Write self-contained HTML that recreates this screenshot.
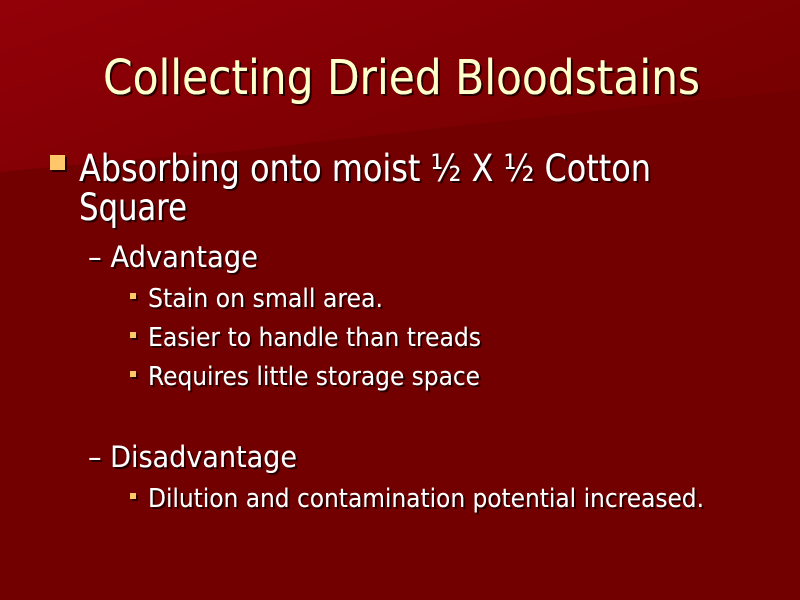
<!DOCTYPE html>
<html><head><meta charset="utf-8">
<style>
html,body{margin:0;padding:0;width:800px;height:600px;overflow:hidden;background:#730000;}
svg{display:block}
text{font-family:"DejaVu Sans","Liberation Sans",sans-serif;}
</style></head>
<body>
<svg width="800" height="600" viewBox="0 0 800 600">
  <defs>
    <linearGradient id="bgtop" x1="0" y1="0" x2="1" y2="0.6">
      <stop offset="0" stop-color="#930008"/>
      <stop offset="0.5" stop-color="#830004"/>
      <stop offset="1" stop-color="#760000"/>
    </linearGradient>
    <filter id="sh" x="-5%" y="-20%" width="110%" height="140%">
      <feDropShadow dx="2" dy="2" stdDeviation="0.3" flood-color="#1a0000" flood-opacity="0.9"/>
    </filter>
  </defs>
  <rect x="0" y="0" width="800" height="600" fill="#730000"/>
  <path d="M0 0 H800 V90 Q500 120 250 150 Q120 160 0 172 Z" fill="url(#bgtop)"/>

  <text x="103" y="94" font-size="48" fill="#FFFFCC" textLength="597" lengthAdjust="spacingAndGlyphs" filter="url(#sh)">Collecting Dried Bloodstains</text>

  <g fill="#FFFFFF" filter="url(#sh)">
    <rect x="50" y="155" width="15" height="15" fill="#FFC66A"/>
    <text x="79" y="181" font-size="37" textLength="572" lengthAdjust="spacingAndGlyphs">Absorbing onto moist ½ X ½ Cotton</text>
    <text x="79" y="220" font-size="37" textLength="108" lengthAdjust="spacingAndGlyphs">Square</text>

    <text x="88" y="267" font-size="29" textLength="170" lengthAdjust="spacingAndGlyphs">– Advantage</text>
    <rect x="130" y="293" width="6" height="6" fill="#FFC66A"/>
    <text x="148" y="307" font-size="26" textLength="235" lengthAdjust="spacingAndGlyphs">Stain on small area.</text>
    <rect x="130" y="332" width="6" height="6" fill="#FFC66A"/>
    <text x="148" y="346" font-size="26" textLength="333" lengthAdjust="spacingAndGlyphs">Easier to handle than treads</text>
    <rect x="130" y="371" width="6" height="6" fill="#FFC66A"/>
    <text x="148" y="385" font-size="26" textLength="332" lengthAdjust="spacingAndGlyphs">Requires little storage space</text>

    <text x="88" y="467" font-size="29" textLength="209" lengthAdjust="spacingAndGlyphs">– Disadvantage</text>
    <rect x="130" y="493" width="6" height="6" fill="#FFC66A"/>
    <text x="148" y="507" font-size="26" textLength="556" lengthAdjust="spacingAndGlyphs">Dilution and contamination potential increased.</text>
  </g>
</svg>
</body></html>
